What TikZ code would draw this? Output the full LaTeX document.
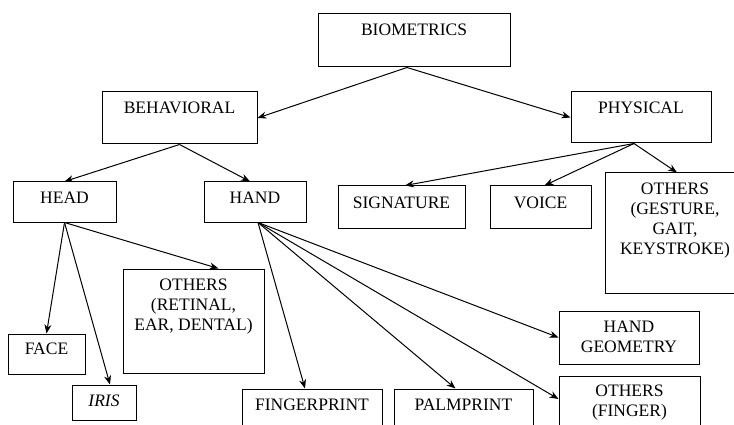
\documentclass[tikz,border=0pt]{standalone}
\usepackage{fontspec}
\setmainfont{Liberation Serif}
\usetikzlibrary{arrows.meta}

\begin{document}
\begin{tikzpicture}[x=1pt,y=-1pt,>={Stealth[length=9pt,width=7pt]},font=\fontsize{17.5}{20}\selectfont,
    box/.style={draw, line width=1pt, inner sep=0pt},
    txt/.style={anchor=north, align=center, inner sep=0pt, yshift=-10.5pt},
    con/.style={->, line width=1pt}]
    \useasboundingbox (0,0) rectangle (734,425);

    % top levels
    \node[box, minimum width=192pt, minimum height=53pt, label={[txt]north:BIOMETRICS}] (bio) at (414,40.5) {};
    \node[box, minimum width=155pt, minimum height=52pt, label={[txt]north:BEHAVIORAL}] (beh) at (179.5,118) {};
    \node[box, minimum width=140pt, minimum height=51pt, label={[txt]north:PHYSICAL}] (phy) at (641,117.5) {};

    \node[box, minimum width=103pt, minimum height=40pt, label={[txt]north:HEAD}] (head) at (64.5,202) {};
    \node[box, minimum width=102pt, minimum height=40pt, label={[txt]north:HAND}] (hand) at (255,202) {};
    \node[box, minimum width=127pt, minimum height=42pt, label={[txt,yshift=-1pt]north:SIGNATURE}] (sig) at (401.5,207) {};
    \node[box, minimum width=101pt, minimum height=42pt, label={[txt,yshift=-1pt]north:VOICE}] (voice) at (540.5,207) {};
    \node[box, minimum width=140pt, minimum height=120pt, label={[txt,yshift=0.5pt]north:OTHERS\\(GESTURE,\\GAIT,\\KEYSTROKE)}] (othphy) at (675,233) {};

    % leaves
    \node[box, minimum width=141pt, minimum height=104pt, label={[txt]north:OTHERS\\(RETINAL,\\EAR, DENTAL)}] (othhead) at (193.5,321) {};
    \node[box, minimum width=77pt, minimum height=40pt, label={[txt,yshift=1.5pt]north:FACE}] (face) at (46.5,354) {};
    \node[box, minimum width=64pt, minimum height=35pt, label={[txt]north:\textit{IRIS}}] (iris) at (104,402.5) {};
    \node[box, minimum width=140pt, minimum height=41pt, label={[txt]north:FINGERPRINT}] (finger) at (312,409.5) {};
    \node[box, minimum width=139pt, minimum height=41pt, label={[txt]north:PALMPRINT}] (palm) at (463.5,409.5) {};
    \node[box, minimum width=140pt, minimum height=53pt, label={[txt]north:HAND\\GEOMETRY}] (handgeo) at (629,337.5) {};
    \node[box, minimum width=141pt, minimum height=54pt, label={[txt,yshift=1.5pt]north:OTHERS\\(FINGER)}] (othhand) at (629.5,403) {};

    % connectors
    \draw[con] ([xshift=-7pt]bio.south) -- (beh.east);
    \draw[con] ([xshift=-7pt]bio.south) -- (phy.west);
    \draw[con] (beh.south) -- (head.north);
    \draw[con] (beh.south) -- ([xshift=-5pt]hand.north);
    \draw[con] ([xshift=-7pt]phy.south) -- ([xshift=3.5pt]sig.north);
    \draw[con] ([xshift=-7pt]phy.south) -- ([xshift=4pt]voice.north);
    \draw[con] ([xshift=-7pt]phy.south) -- ([xshift=2pt]othphy.north);
    \draw[con] (head.south) -- (face.north);
    \draw[con] (head.south) -- ([xshift=6pt]iris.north);
    \draw[con] (head.south) -- ([xshift=25pt]othhead.north);
    \draw[con] ([xshift=3pt]hand.south) -- ([xshift=-7pt]finger.north);
    \draw[con] ([xshift=3pt]hand.south) -- ([xshift=-8pt]palm.north);
    \draw[con] ([xshift=3pt]hand.south) -- (handgeo.west);
    \draw[con] ([xshift=3pt]hand.south) -- ([yshift=4pt]othhand.west);
\end{tikzpicture}
\end{document}
